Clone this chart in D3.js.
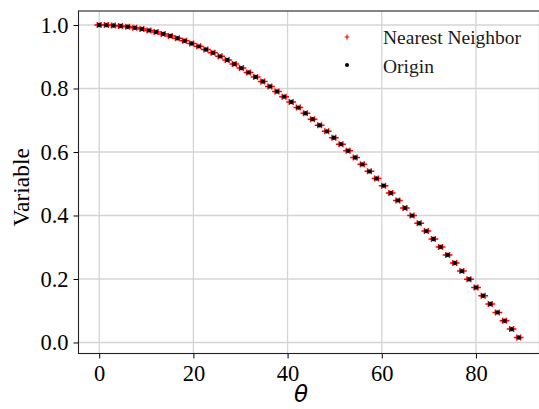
<!DOCTYPE html>
<html>
<head>
<meta charset="utf-8">
<script src="https://cdn.jsdelivr.net/npm/d3@7/dist/d3.min.js"></script>
<style>
  html, body { margin: 0; padding: 0; background: #fff; }
  svg { display: block; }
</style>
</head>
<body>
<svg id="chart" width="539" height="409"></svg>
<script>
// Sample angles (degrees) and the variable evaluated at each sample
const theta = [0.00, 1.51, 3.02, 4.53, 6.04, 7.55, 9.06, 10.57, 12.08, 13.59,
  15.10, 16.61, 18.12, 19.63, 21.14, 22.65, 24.16, 25.67, 27.18, 28.69,
  30.20, 31.71, 33.22, 34.73, 36.24, 37.75, 39.26, 40.77, 42.28, 43.79,
  45.30, 46.81, 48.32, 49.83, 51.34, 52.85, 54.36, 55.87, 57.38, 58.89,
  60.40, 61.91, 63.42, 64.93, 66.44, 67.95, 69.46, 70.97, 72.48, 73.99,
  75.50, 77.01, 78.52, 80.03, 81.54, 83.05, 84.56, 86.07, 87.58, 89.09];
const originValue = [1.0000, 0.9997, 0.9986, 0.9969, 0.9944, 0.9913, 0.9875, 0.9830, 0.9779, 0.9720,
  0.9655, 0.9583, 0.9504, 0.9419, 0.9327, 0.9229, 0.9124, 0.9013, 0.8896, 0.8772,
  0.8643, 0.8507, 0.8366, 0.8219, 0.8066, 0.7907, 0.7743, 0.7574, 0.7399, 0.7219,
  0.7034, 0.6844, 0.6650, 0.6451, 0.6247, 0.6039, 0.5827, 0.5611, 0.5391, 0.5167,
  0.4940, 0.4709, 0.4475, 0.4237, 0.3997, 0.3754, 0.3509, 0.3261, 0.3011, 0.2758,
  0.2504, 0.2248, 0.1990, 0.1731, 0.1471, 0.1210, 0.0948, 0.0685, 0.0422, 0.0159];

// Nearest-neighbour lookups taken on either side of every sample;
// each one returns the value of the sample it snaps to.
const nnThetaBelow = [-0.40, 1.11, 2.62, 4.13, 5.64, 7.15, 8.66, 10.17, 11.68, 13.19,
  14.70, 16.21, 17.72, 19.23, 20.74, 22.25, 23.76, 25.27, 26.78, 28.29,
  29.80, 31.31, 32.82, 34.33, 35.84, 37.35, 38.86, 40.37, 41.88, 43.39,
  44.90, 46.41, 47.92, 49.43, 50.94, 52.45, 53.96, 55.47, 56.98, 58.49,
  60.00, 61.51, 63.02, 64.53, 66.04, 67.55, 69.06, 70.57, 72.08, 73.59,
  75.10, 76.61, 78.12, 79.63, 81.14, 82.65, 84.16, 85.67, 87.18, 88.69];
const nnThetaAbove = [0.40, 1.91, 3.42, 4.93, 6.44, 7.95, 9.46, 10.97, 12.48, 13.99,
  15.50, 17.01, 18.52, 20.03, 21.54, 23.05, 24.56, 26.07, 27.58, 29.09,
  30.60, 32.11, 33.62, 35.13, 36.64, 38.15, 39.66, 41.17, 42.68, 44.19,
  45.70, 47.21, 48.72, 50.23, 51.74, 53.25, 54.76, 56.27, 57.78, 59.29,
  60.80, 62.31, 63.82, 65.33, 66.84, 68.35, 69.86, 71.37, 72.88, 74.39,
  75.90, 77.41, 78.92, 80.43, 81.94, 83.45, 84.96, 86.47, 87.98, 89.49];
const nnValue = originValue;

const xTicks = [0, 20, 40, 60, 80];
const yTicks = [0.0, 0.2, 0.4, 0.6, 0.8, 1.0];
const seriesNames = ["Nearest Neighbor", "Origin"];

const W = 539, H = 409;
const plot = { left: 78.5, right: 539.5, top: 11, bottom: 353.5 };

const svg = d3.select("#chart");

const x = d3.scaleLinear().domain([-4.4, 93.5]).range([plot.left, plot.right]);
const y = d3.scaleLinear().domain([-0.0347, 1.0441]).range([plot.bottom, plot.top]);

const serif = "Liberation Serif";

// grid
const grid = svg.append("g").attr("stroke", "#d4d4d4").attr("stroke-width", 1.3);
grid.selectAll("line.gx").data(xTicks).join("line")
  .attr("x1", d => x(d)).attr("x2", d => x(d))
  .attr("y1", plot.top).attr("y2", plot.bottom);
grid.selectAll("line.gy").data(yTicks).join("line")
  .attr("x1", plot.left).attr("x2", plot.right)
  .attr("y1", d => y(d)).attr("y2", d => y(d));

// axes
const xAxis = d3.axisBottom(x).tickValues(xTicks).tickFormat(d3.format("d"))
  .tickSizeInner(5).tickSizeOuter(0).tickPadding(6);
const yAxis = d3.axisLeft(y).tickValues(yTicks).tickFormat(d3.format(".1f"))
  .tickSizeInner(5).tickSizeOuter(0).tickPadding(5);

const gx = svg.append("g").attr("transform", `translate(0,${plot.bottom})`).call(xAxis);
const gy = svg.append("g").attr("transform", `translate(${plot.left},0)`).call(yAxis);
[gx, gy].forEach(g => {
  g.attr("font-family", serif).attr("font-size", 22.5);
  g.select(".domain").remove();
  g.selectAll(".tick line").attr("stroke", "#000").attr("stroke-width", 1);
  g.selectAll(".tick text").attr("fill", "#000")
    .attr("font-family", serif).attr("font-size", 22.5);
});
gx.selectAll(".tick text").attr("dy", "0.72em");

// frame
svg.append("rect")
  .attr("x", plot.left).attr("y", plot.top)
  .attr("width", plot.right - plot.left).attr("height", plot.bottom - plot.top)
  .attr("fill", "none").attr("stroke", "#222").attr("stroke-width", 1.1);

// markers
const plusPath = s => `M${-s},0H${s}M0,${-s}V${s}`;
const marks = svg.append("g");
const nnPoints = nnThetaBelow.map((t, i) => [t, nnValue[i]])
  .concat(nnThetaAbove.map((t, i) => [t, nnValue[i]]));
marks.append("g").selectAll("path").data(nnPoints).join("path")
  .attr("d", plusPath(3))
  .attr("transform", d => `translate(${x(d[0])},${y(d[1])})`)
  .attr("stroke", "#ff0000").attr("stroke-width", 1.5).attr("fill", "none");
marks.append("g").selectAll("circle").data(theta).join("circle")
  .attr("cx", d => x(d)).attr("cy", (d, i) => y(originValue[i]))
  .attr("r", 2.2).attr("fill", "#000");

// legend
const lg = svg.append("g");
lg.append("path").attr("d", plusPath(2.4))
  .attr("transform", "translate(347,37)")
  .attr("stroke", "#ff0000").attr("stroke-width", 1.2).attr("fill", "none");
lg.append("circle").attr("cx", 347).attr("cy", 65).attr("r", 2).attr("fill", "#000");
lg.selectAll("text").data(seriesNames).join("text")
  .attr("x", 383).attr("y", (d, i) => 44 + i * 29)
  .attr("font-family", serif).attr("font-size", 19.5).attr("fill", "#1a1a1a")
  .text(d => d);

// axis labels
svg.append("text")
  .attr("transform", `translate(29,${(plot.top + plot.bottom) / 2 + 5}) rotate(-90)`)
  .attr("text-anchor", "middle")
  .attr("font-family", serif).attr("font-size", 23.5).attr("fill", "#000")
  .text("Variable");
svg.append("text")
  .attr("x", (plot.left + plot.right) / 2 - 8).attr("y", 402)
  .attr("text-anchor", "middle")
  .attr("font-family", "DejaVu Sans").attr("font-style", "italic")
  .attr("font-size", 23).attr("fill", "#000")
  .text("θ");
</script>
</body>
</html>
